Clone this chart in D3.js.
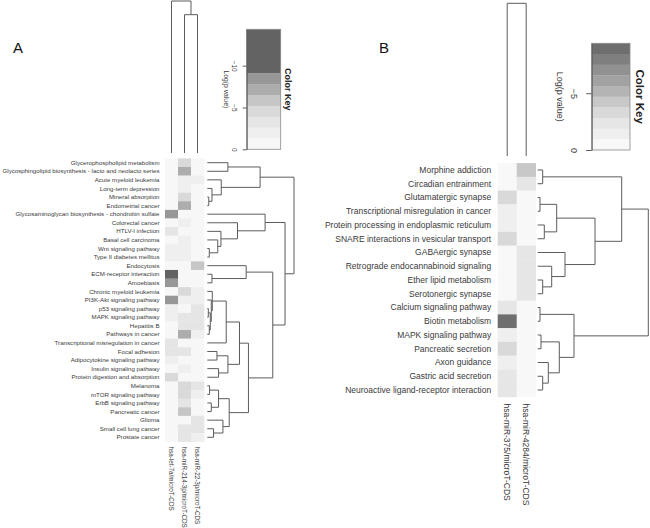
<!DOCTYPE html>
<html><head><meta charset="utf-8">
<script src="https://cdn.jsdelivr.net/npm/d3@7"></script>
<style>body{margin:0;background:#fff}svg{display:block;font-family:"Liberation Sans",Arial,sans-serif}</style>
</head><body><svg id="c" width="650" height="528"></svg>
<script>
// ================= Panel A data =================
const pathwaysA = [
  "Glycerophospholipid metabolism",
  "Glycosphingolipid biosynthesis - lacto and neolacto series",
  "Acute myeloid leukemia",
  "Long-term depression",
  "Mineral absorption",
  "Endometrial cancer",
  "Glycosaminoglycan biosynthesis - chondroitin sulfate",
  "Colorectal cancer",
  "HTLV-I infection",
  "Basal cell carcinoma",
  "Wnt signaling pathway",
  "Type II diabetes mellitus",
  "Endocytosis",
  "ECM-receptor interaction",
  "Amoebiasis",
  "Chronic myeloid leukemia",
  "PI3K-Akt signaling pathway",
  "p53 signaling pathway",
  "MAPK signaling pathway",
  "Hepatitis B",
  "Pathways in cancer",
  "Transcriptional misregulation in cancer",
  "Focal adhesion",
  "Adipocytokine signaling pathway",
  "Insulin signaling pathway",
  "Protein digestion and absorption",
  "Melanoma",
  "mTOR signaling pathway",
  "ErbB signaling pathway",
  "Pancreatic cancer",
  "Glioma",
  "Small cell lung cancer",
  "Prostate cancer"
];
const mirnasA = ["hsa-let-7a/microT-CDS", "hsa-miR-214-3p/microT-CDS", "hsa-miR-22-3p/microT-CDS"];
// Log(p value) per pathway, one array per miRNA (column)
const logpA_let7a = [-0.6,-0.6,-0.6,-0.6,-0.6,-0.6,-8.4,-0.6,-3.2,-0.6,-1.9,-1.9,-0.6,-11.5,-8.4,-0.6,-8.4,-1.9,-1.9,-0.6,-0.6,-3.2,-3.2,-1.9,-0.6,-4.5,-0.6,-0.6,-0.6,-0.6,-0.6,-0.6,-0.6];
const logpA_miR214 = [-4.5,-7.1,-1.9,-1.9,-4.5,-7.1,-0.6,-1.9,-0.6,-1.9,-1.9,-1.9,-0.6,-0.6,-0.6,-4.5,-1.9,-0.6,-3.2,-3.2,-7.1,-0.6,-3.2,-0.6,-1.9,-0.6,-4.5,-4.5,-3.2,-5.8,-0.6,-3.2,-3.2];
const logpA_miR22 = [-0.6,-0.6,-1.9,-0.6,-0.6,-0.6,-0.6,-0.6,-0.6,-0.6,-0.6,-0.6,-5.8,-0.6,-0.6,-1.9,-1.9,-3.2,-3.2,-3.2,-1.9,-0.6,-0.6,-0.6,-0.6,-0.6,-3.2,-1.9,-0.6,-0.6,-3.2,-3.2,-1.9];
const keyBreaksA = [-14.35, -9.1, -7.8, -6.5, -5.2, -3.9, -2.6, -1.3, 0];
const keyColorsA = ["#636363", "#979797", "#adadad", "#c6c6c6", "#d9d9d9", "#e5e5e5", "#efefef", "#f7f7f7"];
const keyTicksA = [-10, -5, 0];
// row dendrogram (hclust style: negative = leaf position, positive = earlier merge step), heights
const rowMergeA = [
  [-1,-2],[-5,-6],[-4,2],[-3,3],[1,4],[-11,-12],[-10,6],[-9,7],[-8,8],[-7,9],
  [-14,-15],[-13,11],[-18,-19],[-20,-21],[13,14],[-17,15],[-16,16],[17,-22],[-23,-24],[-25,-26],
  [19,20],[18,21],[-27,-28],[-29,-30],[23,24],[-32,-33],[-31,26],[25,27],[22,28],[12,29],
  [10,30],[5,31]
];
const rowHeightA = [20.7,1.5,4.7,14,53,2,10.5,13.7,30.3,58,4.7,39,1,2,3,4,5,19,9.7,11.3,20.7,32.3,2.3,4,11.3,6.3,15.7,22,41.3,65.7,78,87];
const colMergeA = [[-2,-3],[-1,1]];
const colHeightA = [0.91, 1.0];

// ================= Panel B data =================
const pathwaysB = [
  "Morphine addiction",
  "Circadian entrainment",
  "Glutamatergic synapse",
  "Transcriptional misregulation in cancer",
  "Protein processing in endoplasmic reticulum",
  "SNARE interactions in vesicular transport",
  "GABAergic synapse",
  "Retrograde endocannabinoid signaling",
  "Ether lipid metabolism",
  "Serotonergic synapse",
  "Calcium signaling pathway",
  "Biotin metabolism",
  "MAPK signaling pathway",
  "Pancreatic secretion",
  "Axon guidance",
  "Gastric acid secretion",
  "Neuroactive ligand-receptor interaction"
];
const mirnasB = ["hsa-miR-375/microT-CDS", "hsa-miR-4284/microT-CDS"];
const logpB_miR375 = [-0.47,-0.47,-3.29,-1.41,-1.41,-3.29,-0.47,-0.47,-0.47,-0.47,-2.35,-8.93,-1.41,-3.29,-1.41,-2.35,-2.35];
const logpB_miR4284 = [-4.23,-2.35,-0.47,-0.47,-0.47,-0.47,-2.35,-2.35,-2.35,-2.35,-0.47,-0.47,-0.47,-0.47,-0.47,-0.47,-0.47];
const keyBreaksB = [-9.4,-8.46,-7.52,-6.58,-5.64,-4.7,-3.76,-2.82,-1.88,-0.94,0];
const keyColorsB = ["#6e6e6e","#7f7f7f","#919191","#a2a2a2","#b4b4b4","#c8c8c8","#d9d9d9","#e6e6e6","#efefef","#f8f8f8"];
const keyTicksB = [-5, 0];
const rowMergeB = [
  [-1,-2],[-3,-4],[-5,-6],[2,3],[-9,-10],[-8,5],[-7,6],[4,7],[1,8],
  [-11,-12],[-13,-14],[-16,-17],[-15,12],[11,13],[10,14],[9,15]
];
const rowHeightB = [5,2.3,6.6,19,5,14,27.3,57.3,84,2.3,3.3,5,10.6,21.6,36.3,110.6];
const colMergeB = [[-1,-2]];
const colHeightB = [1.0];

// ================= drawing helpers =================
const svg = d3.select("#c");
const TXT = "#3a3a3a", LINE = "#5c5c5c";

function dendro(g, merges, heights, leafPos, hScale, orient) {
  const pos = [], ht = [];
  const P = r => r < 0 ? leafPos[-r - 1] : pos[r - 1];
  const H = r => r < 0 ? 0 : ht[r - 1];
  const pt = (h, p) => orient === "right" ? [hScale(h), p] : [p, hScale(h)];
  merges.forEach((m, i) => {
    const [a, b] = m, h = heights[i];
    const pa = P(a), pb = P(b), ha = H(a), hb = H(b);
    pos[i] = (pa + pb) / 2; ht[i] = h;
    const pts = [pt(ha, pa), pt(h, pa), pt(h, pb), pt(hb, pb)];
    g.append("path").attr("d", d3.line()(pts))
      .attr("fill", "none").attr("stroke", LINE).attr("stroke-width", 1);
  });
}

function panel(cfg) {
  const g = svg.append("g");
  const cols = cfg.cols, rows = cfg.rows;
  const x = d3.scaleBand().domain(cols).range(cfg.xr);
  const y = d3.scaleBand().domain(rows).range(cfg.yr);
  const color = d3.scaleThreshold().domain(cfg.breaks.slice(1, -1)).range(cfg.colors);

  // cells
  cols.forEach((c, j) => {
    rows.forEach((r, i) => {
      g.append("rect").attr("x", x(c)).attr("y", y(r))
        .attr("width", x.bandwidth() + 0.3).attr("height", y.bandwidth() + 0.3)
        .attr("fill", color(cfg.values[j][i]));
    });
  });
  // row labels
  g.append("g").selectAll("text").data(rows).join("text")
    .attr("x", cfg.xr[0] - cfg.labGap).attr("y", d => y(d) + y.bandwidth() / 2)
    .attr("dy", "0.35em").attr("text-anchor", "end")
    .attr("font-size", cfg.rowFont).attr("fill", TXT).text(d => d);
  // column labels
  g.append("g").selectAll("text").data(cols).join("text")
    .attr("transform", d => `translate(${x(d) + x.bandwidth() / 2},${cfg.yr[1] + cfg.colGap}) rotate(90)`)
    .attr("dy", "0.35em").attr("text-anchor", "start")
    .attr("font-size", cfg.colFont).attr("fill", TXT).text(d => d);
  // row dendrogram
  const leafY = rows.map(r => y(r) + y.bandwidth() / 2);
  const hR = d3.scaleLinear().domain([0, d3.max(cfg.rowHeights)]).range(cfg.rowDendX);
  dendro(g, cfg.rowMerge, cfg.rowHeights, leafY, hR, "right");
  // column dendrogram
  const leafX = cols.map(c => x(c) + x.bandwidth() / 2);
  const hC = d3.scaleLinear().domain([0, d3.max(cfg.colHeights)]).range(cfg.colDendY);
  dendro(g, cfg.colMerge, cfg.colHeights, leafX, hC, "top");

  // color key
  const k = cfg.key;
  const ky = d3.scaleLinear().domain([0, cfg.breaks[0]]).range([k.y1, k.y0]);
  const bands = d3.pairs(cfg.breaks);
  g.append("g").selectAll("rect").data(bands).join("rect")
    .attr("x", k.x0).attr("width", k.x1 - k.x0)
    .attr("y", d => ky(d[0])).attr("height", d => ky(d[1]) - ky(d[0]) + 0.3)
    .attr("fill", d => color((d[0] + d[1]) / 2));
  g.append("rect").attr("x", k.x0).attr("y", k.y0).attr("width", k.x1 - k.x0).attr("height", k.y1 - k.y0)
    .attr("fill", "none").attr("stroke", "#8a8a8a").attr("stroke-width", 0.8);
  const ax = g.append("g").attr("transform", `translate(${k.x0},0)`)
    .call(d3.axisLeft(ky).tickValues(cfg.ticks).tickSize(k.tick).tickSizeOuter(0).tickFormat(d3.format("d")));
  ax.select(".domain").attr("stroke", LINE);
  ax.selectAll(".tick line").attr("stroke", LINE);
  ax.selectAll(".tick text")
    .attr("x", null).attr("dy", "0.35em").attr("text-anchor", "middle")
    .attr("transform", `translate(${k.tickLabX - k.x0},0) rotate(90)`)
    .attr("font-size", k.tickFont).attr("fill", TXT).attr("font-family", null);
  g.append("text").attr("transform", `translate(${k.axLabX},${(k.y0 + k.y1) / 2}) rotate(90)`)
    .attr("dy", "0.35em").attr("text-anchor", "middle").attr("font-size", k.axFont)
    .attr("fill", TXT).text("Log(p value)");
  g.append("text").attr("transform", `translate(${k.titleX},${(k.y0 + k.y1) / 2}) rotate(90)`)
    .attr("dy", "0.35em").attr("text-anchor", "middle").attr("font-size", k.titleFont)
    .attr("font-weight", "bold").attr("fill", "#222").text("Color Key");
  // panel letter
  g.append("text").attr("x", cfg.letter[0]).attr("y", cfg.letter[1]).attr("font-size", 15)
    .attr("fill", "#111").text(cfg.letter[2]);
}

panel({
  rows: pathwaysA, cols: mirnasA,
  values: [logpA_let7a, logpA_miR214, logpA_miR22],
  xr: [165, 204], yr: [158.4, 441.6],
  breaks: keyBreaksA, colors: keyColorsA, ticks: keyTicksA,
  labGap: 5.5, rowFont: 6.15, colGap: 5, colFont: 6.3,
  rowMerge: rowMergeA, rowHeights: rowHeightA, rowDendX: [207.3, 294],
  colMerge: colMergeA, colHeights: colHeightA, colDendY: [153, 1],
  key: {x0: 246.7, x1: 280.7, y0: 29.3, y1: 149.3, tick: 4, tickLabX: 234.3, tickFont: 6.5,
        axLabX: 226, axFont: 6.8, titleX: 288.3, titleFont: 9},
  letter: [13, 53, "A"]
});

panel({
  rows: pathwaysB, cols: mirnasB,
  values: [logpB_miR375, logpB_miR4284],
  xr: [497.7, 535.7], yr: [163.1, 396.9],
  breaks: keyBreaksB, colors: keyColorsB, ticks: keyTicksB,
  labGap: 6.5, rowFont: 8.5, colGap: 6.5, colFont: 8.5,
  rowMerge: rowMergeB, rowHeights: rowHeightB, rowDendX: [537.7, 648.3],
  colMerge: colMergeB, colHeights: colHeightB, colDendY: [156, 3.3],
  key: {x0: 591.7, x1: 630, y0: 43.3, y1: 150, tick: 5.5, tickLabX: 574, tickFont: 9,
        axLabX: 560.5, axFont: 9, titleX: 640.5, titleFont: 11.5},
  letter: [379, 53, "B"]
});
</script></body></html>
